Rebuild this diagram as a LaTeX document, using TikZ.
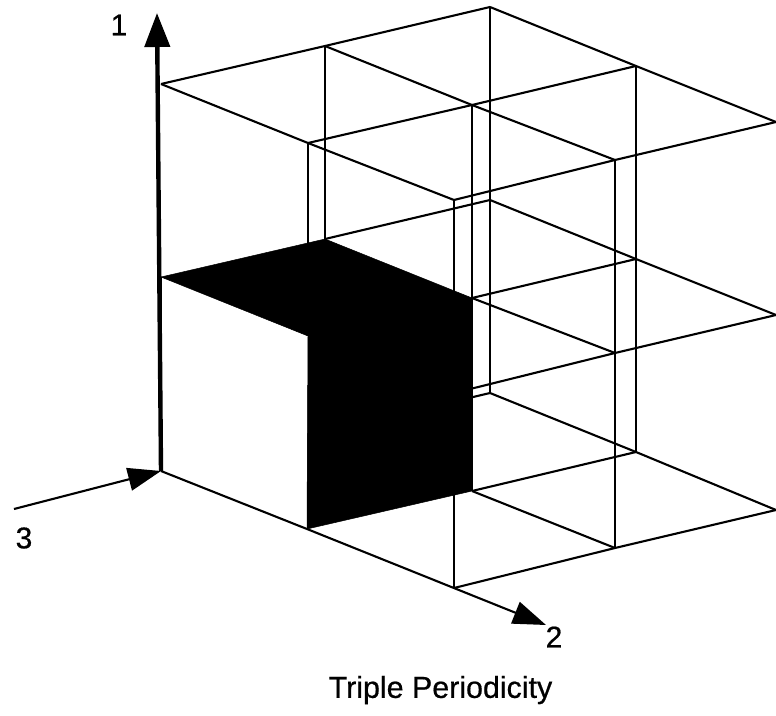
\documentclass[tikz,border=0pt]{standalone}
\usepackage{fontspec}
\setmainfont{Liberation Sans}
\newfontfamily\heavysans[FakeBold=0.6]{Liberation Sans}
\usetikzlibrary{arrows.meta}
\tikzset{
  grid line/.style={draw=black,line width=2.1pt,line join=round},
  axis line/.style={draw=black,line width=2.1pt,-{Triangle[length=33pt,width=23pt]}},
  axis thick/.style={draw=black,line width=4.4pt,-{Triangle[length=34pt,width=25pt]}},
  label text/.style={font=\heavysans\fontsize{30}{32}\selectfont,inner sep=0pt,text=black},
  caption text/.style={font=\heavysans\fontsize{30.4}{32}\selectfont,inner sep=0pt,text=black},
  solid face/.style={fill=black,draw=black,line width=0.5pt,line join=miter}
}
\begin{document}
\begin{tikzpicture}[x=1pt,y=-1pt]
\useasboundingbox (0,0) rectangle (776,715);
% top level (rows along axis 2, columns along axis 3)
\coordinate (T00) at (161,84);  \coordinate (T01) at (325,46);  \coordinate (T02) at (490,7);
\coordinate (T10) at (308,143); \coordinate (T11) at (472,105); \coordinate (T12) at (636,66);
\coordinate (T20) at (454,200); \coordinate (T21) at (615,160); \coordinate (T22) at (776,122);
% middle level
\coordinate (M00) at (161,277); \coordinate (M01) at (325,239); \coordinate (M02) at (490,200);
\coordinate (M10) at (308,336); \coordinate (M11) at (472,298); \coordinate (M12) at (636,259);
\coordinate (M20) at (454,393); \coordinate (M21) at (615,353); \coordinate (M22) at (776,315);
% bottom level
\coordinate (B00) at (161,471); \coordinate (B01) at (325,432); \coordinate (B02) at (490,393);
\coordinate (B10) at (307,529); \coordinate (B11) at (472,491); \coordinate (B12) at (636,452);
\coordinate (B20) at (454,588); \coordinate (B21) at (615,548); \coordinate (B22) at (776,510);
% axis ends
\coordinate (A1) at (157,13);
\coordinate (A2) at (546,625);
\coordinate (A3s) at (14,509);

% verticals
\draw[grid line] (T01) -- (M01);
\draw[grid line] (T02) -- (B02);
\draw[grid line] (T10) -- (M10);
\draw[grid line] (T11) -- (B11);
\draw[grid line] (T12) -- (B12);
\draw[grid line] (T20) -- (B20);
\draw[grid line] (T21) -- (B21);
\draw[grid line] (M10) -- (B10);
% top level
\draw[grid line] (T00) -- (T01) -- (T02);
\draw[grid line] (T10) -- (T11) -- (T12);
\draw[grid line] (T20) -- (T21) -- (T22);
\draw[grid line] (T00) -- (T10) -- (T20);
\draw[grid line] (T01) -- (T11) -- (T21);
\draw[grid line] (T02) -- (T12) -- (T22);
% middle level
\draw[grid line] (M01) -- (M02);
\draw[grid line] (M11) -- (M12);
\draw[grid line] (M20) -- (M21) -- (M22);
\draw[grid line] (M11) -- (M21);
\draw[grid line] (M02) -- (M12) -- (M22);
% bottom level
\draw[grid line] (B11) -- (B12);
\draw[grid line] (B20) -- (B21) -- (B22);
\draw[grid line] (B11) -- (B21);
\draw[grid line] (B02) -- (B12) -- (B22);
\draw[grid line] (B01) -- (B02);
% solid faces
\fill[white] (M00) -- (M10) -- (B10) -- (B00) -- cycle;
\path[solid face] (M00) -- (M01) -- (M11) -- (B11) -- (B10) -- (M10) -- cycle;
\draw[grid line] (M00) -- (B00);
% axes
\draw[axis thick] (B00) -- (A1);
\draw[grid line] (B00) -- (B10);
\draw[axis line] (B10) -- (A2);
\draw[axis line] (A3s) -- (B00);
% labels
\node[label text] (L1) at (119,25) {1};
\node[label text] (L2) at (554,637) {2};
\node[label text] (L3) at (24,538) {3};
\node[caption text] (cap) at (440.5,690) {Triple Periodicity};
\end{tikzpicture}
\end{document}
